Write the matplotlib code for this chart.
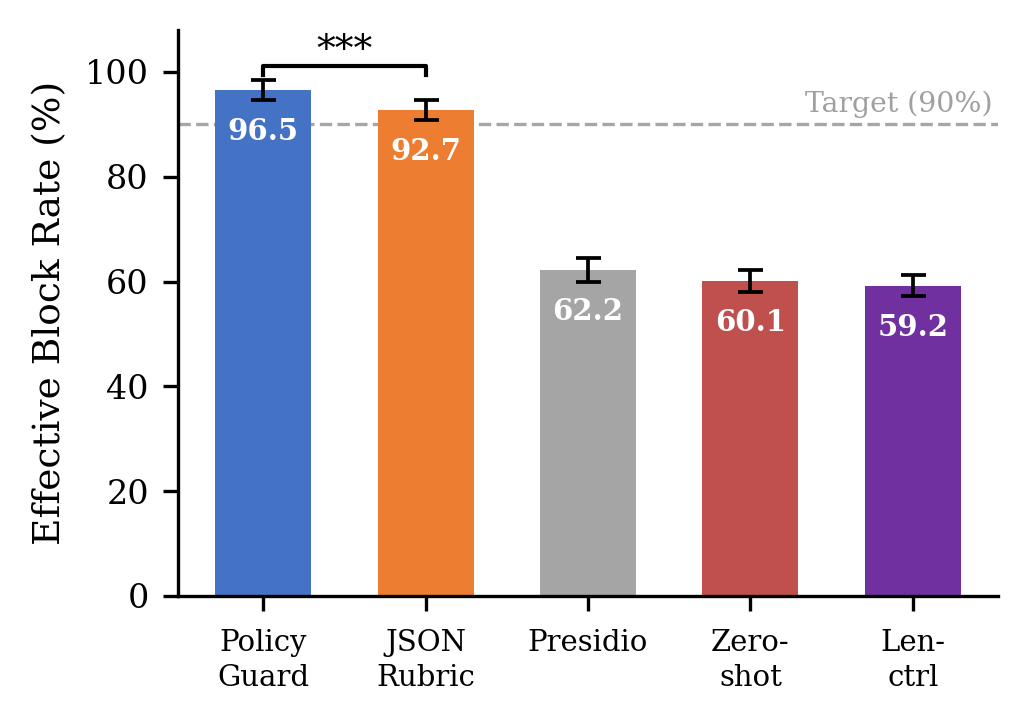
import matplotlib
matplotlib.use("Agg")
import matplotlib.pyplot as plt
import numpy as np

categories = ["Policy\nGuard", "JSON\nRubric", "Presidio", "Zero-\nshot", "Len-\nctrl"]
values = [96.5, 92.7, 62.2, 60.1, 59.2]
errors = [1.9, 1.9, 2.2, 2.1, 2.0]
colors = ["#4472C4", "#ED7D31", "#A5A5A5", "#C0504D", "#7030A0"]
target = 90
yticks = [0, 20, 40, 60, 80, 100]

plt.rcParams['font.family'] = ['DejaVu Serif']

fig = plt.figure(figsize=(1028/300, 725/300), dpi=300)
ax = fig.add_axes([178/1028, 1-596/725, (998-178)/1028, (596-30)/725])

x = np.arange(len(categories))
ax.bar(x, values, width=0.59, color=colors, zorder=2)
ax.errorbar(x, values, yerr=errors, fmt='none', ecolor='black',
            elinewidth=0.9, capsize=3, capthick=0.9, zorder=3)

for xi, v in zip(x, values):
    ax.text(xi, v - 7.9, f"{v:.1f}", ha='center', va='center', color='white',
            fontsize=7, fontweight='bold', zorder=4)

ax.axhline(target, color='#A6A6A6', linestyle='--', linewidth=0.8, zorder=1)
ax.text(0.993, target + 1.3, "Target (90%)", transform=ax.get_yaxis_transform(),
        ha='right', va='bottom', fontsize=6.8, color='#A0A0A0')

# significance bracket
yb = 101.2
ax.plot([x[0], x[0], x[1], x[1]], [99.4, yb, yb, 99.4], color='black', lw=1.0,
        zorder=3)
ax.text((x[0] + x[1]) / 2, yb - 0.6, "***", ha='center', va='bottom', fontsize=9)

ax.set_ylim(0, 108)
ax.set_yticks(yticks)
ax.set_xticks(x)
ax.set_xticklabels(categories, fontsize=7, linespacing=1.3)
ax.tick_params(axis='x', pad=4.5)
ax.tick_params(axis='y', labelsize=8)
ax.set_ylabel("Effective Block Rate (%)", fontsize=9)
ax.spines['top'].set_visible(False)
ax.spines['right'].set_visible(False)

fig.savefig("out.png", dpi=300)
